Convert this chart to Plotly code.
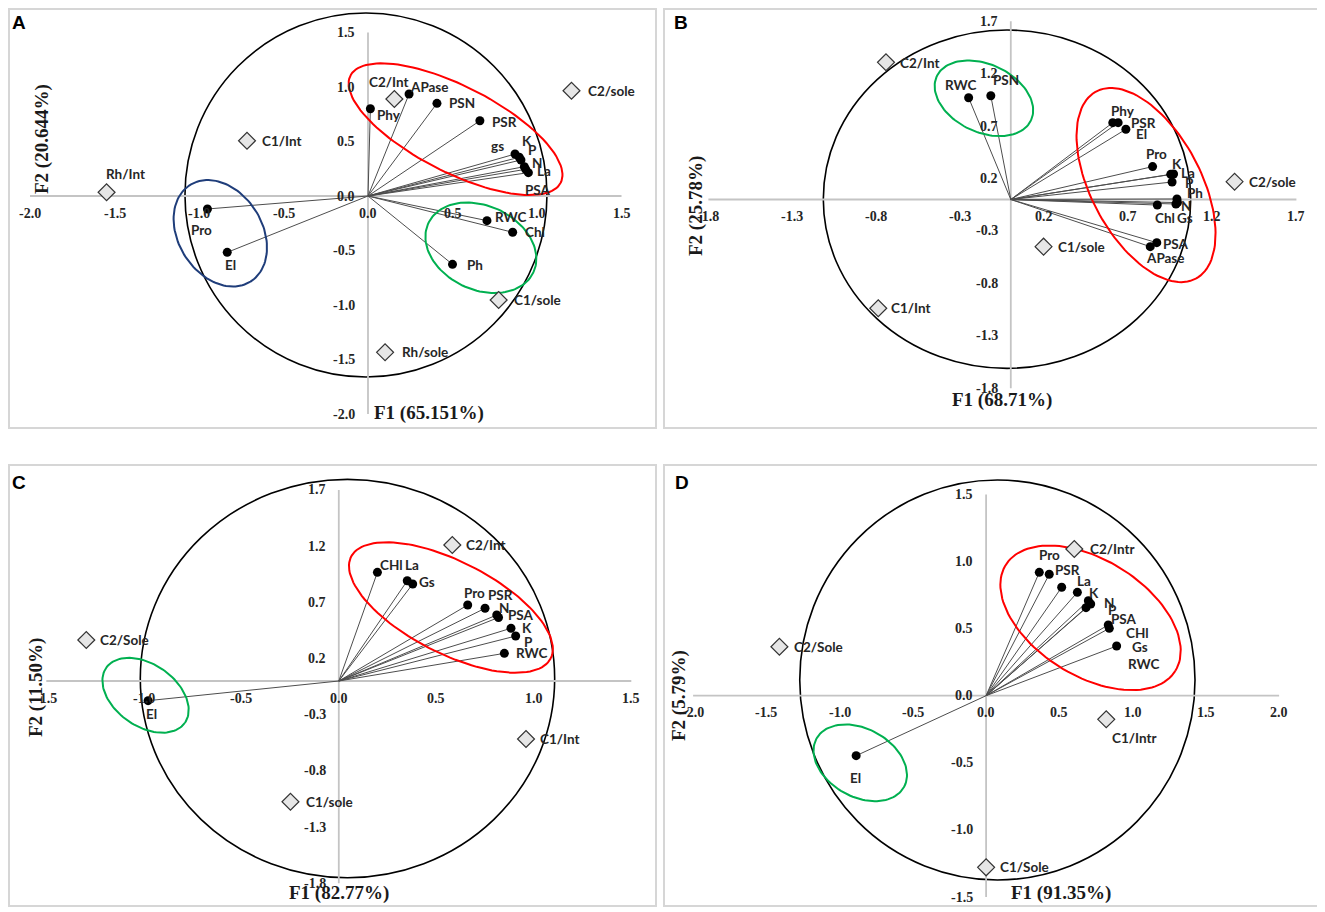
import numpy as np
import plotly.graph_objects as go

# the page body has an 8 px margin, so the figure is made that much smaller
# and every screen position is shifted back by it
OFF = 8
W, H = 1325, 912
FW, FH = W - OFF, H - OFF

# ---------------- panel A ----------------
a_vars = ["Phy", "APase", "PSN", "PSR", "gs", "K", "P", "N", "La", "PSA", "RWC", "Chl", "Ph", "Pro", "El"]
a_f1 = [0.014, 0.243, 0.408, 0.662, 0.870, 0.895, 0.905, 0.925, 0.933, 0.949, 0.704, 0.856, 0.500, -0.950, -0.833]
a_f2 = [0.800, 0.936, 0.850, 0.690, 0.385, 0.355, 0.330, 0.269, 0.245, 0.214, -0.226, -0.333, -0.627, -0.119, -0.517]
a_trt = ["C2/Int", "C2/sole", "C1/Int", "Rh/Int", "C1/sole", "Rh/sole"]
a_trt_f1 = [0.156, 1.204, -0.716, -1.547, 0.773, 0.101]
a_trt_f2 = [0.890, 0.966, 0.507, 0.034, -0.954, -1.434]
a_xticks = [-2.0, -1.5, -1.0, -0.5, 0.0, 0.5, 1.0, 1.5]
a_yticks = [-2.0, -1.5, -1.0, -0.5, 0.0, 0.5, 1.0, 1.5]
a_titles = ("F1 (65.151%)", "F2 (20.644%)")

# ---------------- panel B ----------------
b_vars = ["RWC", "PSN", "Phy", "PSR", "El", "Pro", "K", "La", "P", "Ph", "N", "Gs", "Chl", "PSA", "APase"]
b_f1 = [-0.251, -0.119, 0.607, 0.639, 0.685, 0.844, 0.952, 0.969, 0.960, 0.989, 0.992, 0.983, 0.872, 0.869, 0.830]
b_f2 = [0.971, 0.990, 0.733, 0.733, 0.670, 0.314, 0.240, 0.243, 0.167, 0.005, -0.029, -0.043, -0.053, -0.412, -0.450]
b_trt = ["C2/Int", "C2/sole", "C1/sole", "C1/Int"]
b_trt_f1 = [-0.743, 1.332, 0.195, -0.789]
b_trt_f2 = [1.309, 0.170, -0.450, -1.038]
b_xticks = [-1.8, -1.3, -0.8, -0.3, 0.2, 0.7, 1.2, 1.7]
b_yticks = [-1.8, -1.3, -0.8, -0.3, 0.2, 0.7, 1.2, 1.7]
b_titles = ("F1 (68.71%)", "F2 (25.78%)")

# ---------------- panel C ----------------
c_vars = ["CHl", "La", "Gs", "Pro", "PSR", "N", "PSA", "K", "P", "RWC", "El"]
c_f1 = [0.198, 0.351, 0.379, 0.661, 0.750, 0.810, 0.819, 0.883, 0.907, 0.849, -0.978]
c_f2 = [0.967, 0.892, 0.863, 0.676, 0.647, 0.587, 0.565, 0.469, 0.400, 0.246, -0.175]
c_trt = ["C2/Int", "C2/Sole", "C1/Int", "C1/sole"]
c_trt_f1 = [0.582, -1.295, 0.960, -0.248]
c_trt_f2 = [1.210, 0.365, -0.516, -1.074]
c_xticks = [-1.5, -1.0, -0.5, 0.0, 0.5, 1.0, 1.5]
c_yticks = [-1.8, -1.3, -0.8, -0.3, 0.2, 0.7, 1.2, 1.7]
c_titles = ("F1 (82.77%)", "F2 (11.50%)")

# ---------------- panel D ----------------
d_vars = ["Pro", "PSR", "La", "K", "N", "P", "RWC", "PSA", "CHl", "Gs", "El"]
d_f1 = [0.363, 0.431, 0.516, 0.623, 0.698, 0.714, 0.682, 0.834, 0.841, 0.891, -0.887]
d_f2 = [0.919, 0.905, 0.808, 0.770, 0.708, 0.683, 0.656, 0.527, 0.502, 0.370, -0.447]
d_trt = ["C2/Intr", "C2/Sole", "C1/Intr", "C1/Sole"]
d_trt_f1 = [0.602, -1.411, 0.820, 0.000]
d_trt_f2 = [1.093, 0.365, -0.176, -1.279]
d_xticks = [-2.0, -1.5, -1.0, -0.5, 0.0, 0.5, 1.0, 1.5, 2.0]
d_yticks = [-1.5, -1.0, -0.5, 0.0, 0.5, 1.0, 1.5]
d_titles = ("F1 (91.35%)", "F2 (5.79%)")

RED, GREEN, BLUE = "#ff0000", "#00b050", "#1f3d7a"

# layout of each panel (screen pixel box, origin, px per unit, decorations, label offsets)
panels = [
    dict(letter="A", vars=a_vars, f1=a_f1, f2=a_f2, trt=a_trt, t1=a_trt_f1, t2=a_trt_f2,
         xticks=a_xticks, yticks=a_yticks, titles=a_titles,
         box=(5, 6, 656, 428), origin=(368, 196), scale=(169, 109),
         circle=(-1.083, 1.059, -1.661, 1.679),
         ellipses=[(RED, 0.518, 0.613, 118, 43, 27), (BLUE, -0.874, -0.342, 57, 42, 58),
                   (GREEN, 0.668, -0.475, 58, 42, 25)],
         var_off=[(19, 6), (20, -7), (25, 0), (25, 1), (-18, -8), (8, -16), (12, -10), (13, -4),
                  (18, 2), (10, 17), (24, -4), (22, 0), (22, 1), (-6, 21), (3, 13)],
         trt_off=[(-5, -17), (40, 0), (35, 0), (19, -18), (39, 0), (40, 0)],
         xtitle=(429, 413), ytitle=(42, 139), letter_xy=(19, 23)),
    dict(letter="B", vars=b_vars, f1=b_f1, f2=b_f2, trt=b_trt, t1=b_trt_f1, t2=b_trt_f2,
         xticks=b_xticks, yticks=b_yticks, titles=b_titles,
         box=(664, 6, 1321, 428), origin=(1010.8, 199.5), scale=(168, 104.8),
         circle=(-1.116, 1.071, -1.611, 1.617),
         ellipses=[(GREEN, -0.160, 0.966, 52, 34, 25), (RED, 0.805, 0.138, 106, 55, 62)],
         var_off=[(-8, -13), (15, -16), (10, -12), (25, 0), (16, 5), (4, -13), (6, -10), (14, -1),
                  (17, 1), (18, -6), (9, 3), (9, 14), (8, 13), (19, 1), (15, 11)],
         trt_off=[(34, 1), (38, 0), (38, 0), (33, 0)],
         xtitle=(1002, 400), ytitle=(696, 206), letter_xy=(681, 23)),
    dict(letter="C", vars=c_vars, f1=c_f1, f2=c_f2, trt=c_trt, t1=c_trt_f1, t2=c_trt_f2,
         xticks=c_xticks, yticks=c_yticks, titles=c_titles,
         box=(5, 465, 656, 906), origin=(338.8, 681), scale=(195, 112.4),
         circle=(-1.018, 1.107, -1.750, 1.794),
         ellipses=[(RED, 0.575, 0.654, 112, 46, 27), (GREEN, -0.991, -0.127, 48, 31, 35)],
         var_off=[(14, -7), (5, -16), (14, -2), (7, -12), (15, -13), (7, -7), (22, -2), (16, 0),
                  (13, 6), (27, 0), (3, 13)],
         trt_off=[(34, 0), (38, 0), (34, 0), (39, 0)],
         xtitle=(339, 893), ytitle=(36, 687), letter_xy=(19, 482)),
    dict(letter="D", vars=d_vars, f1=d_f1, f2=d_f2, trt=d_trt, t1=d_trt_f1, t2=d_trt_f2,
         xticks=d_xticks, yticks=d_yticks, titles=d_titles,
         box=(664, 465, 1321, 906), origin=(986.1, 695.7), scale=(146.5, 134.2),
         circle=(-1.272, 1.426, -1.373, 1.607),
         ellipses=[(RED, 0.713, 0.580, 100, 58, 32), (GREEN, -0.859, -0.500, 50, 34, 29)],
         var_off=[(10, -17), (18, -4), (22, -6), (17, 1), (21, 2), (22, 6), (57, 56), (16, -6),
                  (28, 5), (23, 1), (-1, 22)],
         trt_off=[(38, 0), (39, 0), (28, 19), (38, 0)],
         xtitle=(1061, 893), ytitle=(679, 696), letter_xy=(682, 482)),
]

LABEL_FONT = dict(family="Lato, Open Sans, sans-serif", size=13.5, color="#262626")
TICK_FONT = dict(family="Liberation Serif, Times New Roman, serif", size=14, color="#262626")
TITLE_FONT = dict(family="Liberation Serif, Times New Roman, serif", size=19, color="#1a1a1a")


def px(sx):
    return (sx - OFF) / FW


def py(sy):
    return 1 - (sy - OFF) / FH


def ellipse(p, cx, cy, a, b, ang):
    # ellipse given in screen pixels (rotation clockwise), returned in data units
    sx, sy = p["scale"]
    t = np.linspace(0, 2 * np.pi, 120)
    th = np.radians(ang)
    ex = a * np.cos(t) * np.cos(th) - b * np.sin(t) * np.sin(th)
    ey = a * np.cos(t) * np.sin(th) + b * np.sin(t) * np.cos(th)
    return cx + ex / sx, cy - ey / sy


fig = go.Figure()
layout = dict(width=FW, height=FH, margin=dict(l=0, r=0, t=0, b=0),
              paper_bgcolor="white", plot_bgcolor="white", showlegend=False,
              hovermode=False)
annotations = []
shapes = []

for i, p in enumerate(panels):
    sfx = "" if i == 0 else str(i + 1)
    xr, yr = "x" + sfx, "y" + sfx
    x0, y0, x1, y1 = p["box"]
    x0, y0 = max(x0, OFF + 1), max(y0, OFF + 1)
    ox, oy = p["origin"]
    sx, sy = p["scale"]
    layout["xaxis" + sfx] = dict(domain=[px(x0), px(x1)], range=[(x0 - ox) / sx, (x1 - ox) / sx],
                                 visible=False, anchor=yr)
    layout["yaxis" + sfx] = dict(domain=[py(y1), py(y0)], range=[(oy - y1) / sy, (oy - y0) / sy],
                                 visible=False, anchor=xr)

    # panel frame
    shapes.append(dict(type="rect", xref="paper", yref="paper", x0=px(x0), x1=px(x1),
                       y0=py(y1), y1=py(y0), line=dict(color="#d6d6d6", width=2), layer="below"))
    # correlation circle
    cx0, cx1, cy0, cy1 = p["circle"]
    shapes.append(dict(type="circle", xref=xr, yref=yr, x0=cx0, x1=cx1, y0=cy0, y1=cy1,
                       line=dict(color="black", width=1.6), layer="below"))

    xt, yt = p["xticks"], p["yticks"]
    # axis lines through the origin
    fig.add_trace(go.Scatter(x=[xt[0], xt[-1], None, 0, 0], y=[0, 0, None, yt[0], yt[-1]],
                             mode="lines", line=dict(color="#c4c4c4", width=1.8),
                             xaxis=xr, yaxis=yr, hoverinfo="skip"))
    # loading vectors
    vx, vy = [], []
    for a, b in zip(p["f1"], p["f2"]):
        vx += [0, a, None]
        vy += [0, b, None]
    fig.add_trace(go.Scatter(x=vx, y=vy, mode="lines", line=dict(color="#4d4d4d", width=1),
                             xaxis=xr, yaxis=yr, hoverinfo="skip"))
    # group ellipses
    for col, ecx, ecy, ea, eb, eang in p["ellipses"]:
        ex, ey = ellipse(p, ecx, ecy, ea, eb, eang)
        fig.add_trace(go.Scatter(x=ex, y=ey, mode="lines", line=dict(color=col, width=2),
                                 xaxis=xr, yaxis=yr, hoverinfo="skip"))
    # variables
    fig.add_trace(go.Scatter(x=p["f1"], y=p["f2"], mode="markers",
                             marker=dict(color="black", size=9),
                             xaxis=xr, yaxis=yr, hoverinfo="skip"))
    # treatments
    fig.add_trace(go.Scatter(x=p["t1"], y=p["t2"], mode="markers",
                             marker=dict(symbol="diamond", color="#e6e6e6", size=13,
                                         line=dict(color="#333333", width=1.2)),
                             xaxis=xr, yaxis=yr, hoverinfo="skip"))

    # point labels
    for name, a, b, (dx, dy) in zip(p["vars"], p["f1"], p["f2"], p["var_off"]):
        annotations.append(dict(x=a, y=b, xref=xr, yref=yr, text="<b>%s</b>" % name, showarrow=False,
                                xanchor="center", yanchor="middle",
                                xshift=dx, yshift=-dy, font=LABEL_FONT))
    for name, a, b, (dx, dy) in zip(p["trt"], p["t1"], p["t2"], p["trt_off"]):
        annotations.append(dict(x=a, y=b, xref=xr, yref=yr, text="<b>%s</b>" % name, showarrow=False,
                                xanchor="center", yanchor="middle",
                                xshift=dx, yshift=-dy, font=LABEL_FONT))

    # tick labels next to the axes
    for v in xt:
        annotations.append(dict(x=v, y=0, xref=xr, yref=yr, text="<b>%.1f</b>" % v, showarrow=False,
                                xanchor="center", yanchor="middle", yshift=-17, font=TICK_FONT))
    for v in yt:
        annotations.append(dict(x=0, y=v, xref=xr, yref=yr, text="<b>%.1f</b>" % v, showarrow=False,
                                xanchor="right", yanchor="middle", xshift=-11, font=TICK_FONT))

    # axis titles and panel letter
    tx, ty = p["xtitle"]
    annotations.append(dict(x=px(tx), y=py(ty), xref="paper", yref="paper", showarrow=False,
                            xanchor="center", yanchor="middle",
                            text="<b>%s</b>" % p["titles"][0], font=TITLE_FONT))
    tx, ty = p["ytitle"]
    annotations.append(dict(x=px(tx), y=py(ty), xref="paper", yref="paper", showarrow=False,
                            xanchor="center", yanchor="middle",
                            text="<b>%s</b>" % p["titles"][1], textangle=-90, font=TITLE_FONT))
    lx, ly = p["letter_xy"]
    annotations.append(dict(x=px(lx), y=py(ly), xref="paper", yref="paper", showarrow=False,
                            xanchor="center", yanchor="middle", text="<b>%s</b>" % p["letter"],
                            font=dict(family="Liberation Sans, Arial, sans-serif", size=19, color="black")))

layout["annotations"] = annotations
layout["shapes"] = shapes
fig.update_layout(**layout)

fig.write_html("out.html")
